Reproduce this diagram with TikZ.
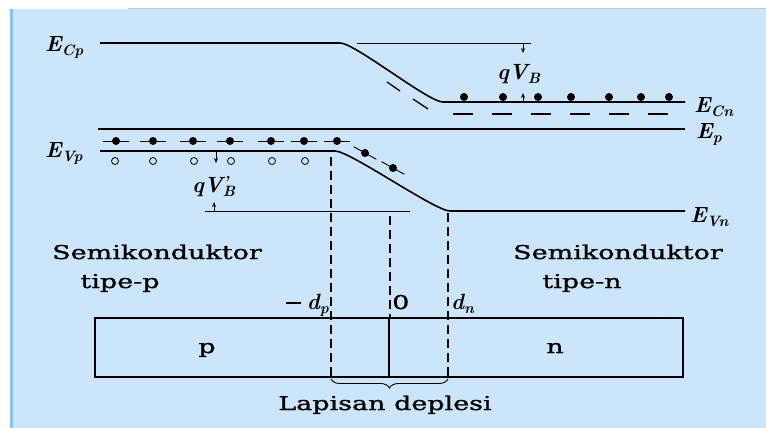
\documentclass[tikz,border=0pt]{standalone}
\usepackage{fontspec}
\newfontfamily\capfont[FakeStretch=1.42, FakeBold=1.2]{DejaVu Serif}
\usepackage{tikz}
\usetikzlibrary{arrows.meta, positioning, decorations.pathreplacing}

\definecolor{skyback}{RGB}{204,229,251}
\definecolor{skyedge}{RGB}{140,192,245}

\newcommand{\levelsize}{\rmfamily\fontsize{22}{26}\selectfont\bfseries\itshape}
\newcommand{\capsize}{\capfont\fontsize{19}{22}\selectfont}
\newcommand{\subpart}[1]{\raisebox{-4pt}{\fontsize{15}{17}\selectfont #1}}
\newcommand{\sym}[2]{#1\subpart{#2}}

\begin{document}
\begin{tikzpicture}[x=1pt, y=-1pt,
    band/.style={draw=black, line width=1.6pt},
    refline/.style={draw=black, line width=0.9pt},
    edgeline/.style={draw=black, line width=1.2pt, dash pattern=on 9pt off 5pt},
    fermidash/.style={draw=black, line width=1.5pt, dash pattern=on 20pt off 19pt},
    electron/.style={circle, fill=black, inner sep=0pt, minimum size=8pt},
    hole/.style={circle, draw=black, line width=0.8pt, fill=none, inner sep=0pt, minimum size=7pt},
    level/.style={font=\levelsize, inner sep=0pt, anchor=base west},
    caption/.style={font=\capsize, inner sep=0pt, anchor=base},
    gap/.style={-{Stealth[length=5pt, width=4pt]}, line width=0.9pt},
    slab/.style={draw=black, line width=1.6pt}
]
    \useasboundingbox (0,0) rectangle (766,428);

    % --- Background ---
    \fill[white] (0,0) rectangle (766,428);
    \fill[skyback] (13,9) rectangle (766,428);
    \fill[skyedge] (10,9) rectangle (13,428);
    \draw[black!22, line width=1.5pt] (128,8.5) -- (766,8.5);

    % --- Band edges ---
    \coordinate (cp0) at (100,43);
    \coordinate (cp1) at (340,43);
    \coordinate (cn1) at (443,102);
    \coordinate (cn0) at (685,102);
    \draw[band] (cp0) -- (cp1) .. controls (355,43) and (428,102) .. (cn1) -- (cn0);

    \coordinate (fp) at (98,129);
    \coordinate (fn) at (685,129);
    \draw[band] (fp) -- (fn);

    \coordinate (vp0) at (100,151);
    \coordinate (vp1) at (335,151);
    \coordinate (vn1) at (450,211);
    \coordinate (vn0) at (685,211);
    \draw[band] (vp0) -- (vp1) .. controls (350,151) and (435,211) .. (vn1) -- (vn0);

    % dashed level
    \draw[band, line width=1.3pt] (387,82) -- (400,91);
    \draw[band, line width=1.3pt] (413,99) -- (428,109);
    \draw[fermidash] (453,114) -- (677,114);

    % --- Barrier heights ---
    \draw[refline] (357,43) -- (531,43);
    \draw[gap] (523,43) -- (523,53);
    \draw[gap] (523,102) -- (523,93);
    \node[level] (qvb) at (497,80) {\sym{qV}{B}};

    \draw[refline] (205,211) -- (410,211);
    \draw[gap] (216,152) -- (216,163);
    \draw[gap] (214,211) -- (214,202);
    \node[level] (qvbp) at (192,192) {qV\rlap{\raisebox{5pt}{\fontsize{16}{16}\selectfont '}}\subpart{B}};

    % --- Carriers ---
    \foreach \x in {464,503,538,571,609,641,669}
        \node[electron] (e\x) at (\x,97) {};
    \foreach \x in {116,153,193,230,271,304,337} {
        \draw[refline] (\x-13,141) -- (\x+13,141);
        \node[electron] (m\x) at (\x,141) {};
    }
    \foreach \x/\y in {365/153, 393/168} {
        \draw[refline] (\x,\y) ++(209:13) -- ++(29:26);
        \node[electron] (s\x) at (\x,\y) {};
    }
    \foreach \x in {115,153,194,231,272,305}
        \node[hole] (o\x) at (\x,161) {};

    % --- Level labels ---
    \node[level] (ecp) at (45,52) {\sym{E}{Cp}};
    \node[level] (evp) at (45,157) {\sym{E}{Vp}};
    \node[level] (ecn) at (694,112) {\sym{E}{Cn}};
    \node[level] (efn) at (696,138) {\sym{E}{p}};
    \node[level] (evn) at (690,222) {\sym{E}{Vn}};

    % --- Junction ---
    \draw[edgeline] (331,157) -- (331,379);
    \draw[edgeline] (390,216) -- (390,318);
    \draw[edgeline] (448,213) -- (448,379);

    \draw[slab] (95,318) rectangle (683,377);
    \draw[slab] (389,318) -- (389,377);
    \node[caption] (pside) at (207,353) {p};
    \node[caption] (nside) at (555,353) {n};

    \node[level, anchor=base east] (dp) at (329,309) {\rule[5.5pt]{15pt}{1.2pt}\hspace{6pt}\sym{d}{p}};
    \node[caption, anchor=base west] (zero) at (392,309) {0};
    \node[level] (dn) at (451,309) {\sym{d}{n}};

    \draw[refline, decorate, decoration={brace, amplitude=9pt}] (448,379) -- (331,379);
    \node[caption] (depl) at (385,410) {Lapisan deplesi};

    % --- Captions ---
    \node[caption] (semip) at (157,259) {Semikonduktor};
    \node[caption] (tipep) at (120,288) {tipe-p};
    \node[caption] (semin) at (618,259) {Semikonduktor};
    \node[caption] (tipen) at (582,288) {tipe-n};

\end{tikzpicture}
\end{document}
